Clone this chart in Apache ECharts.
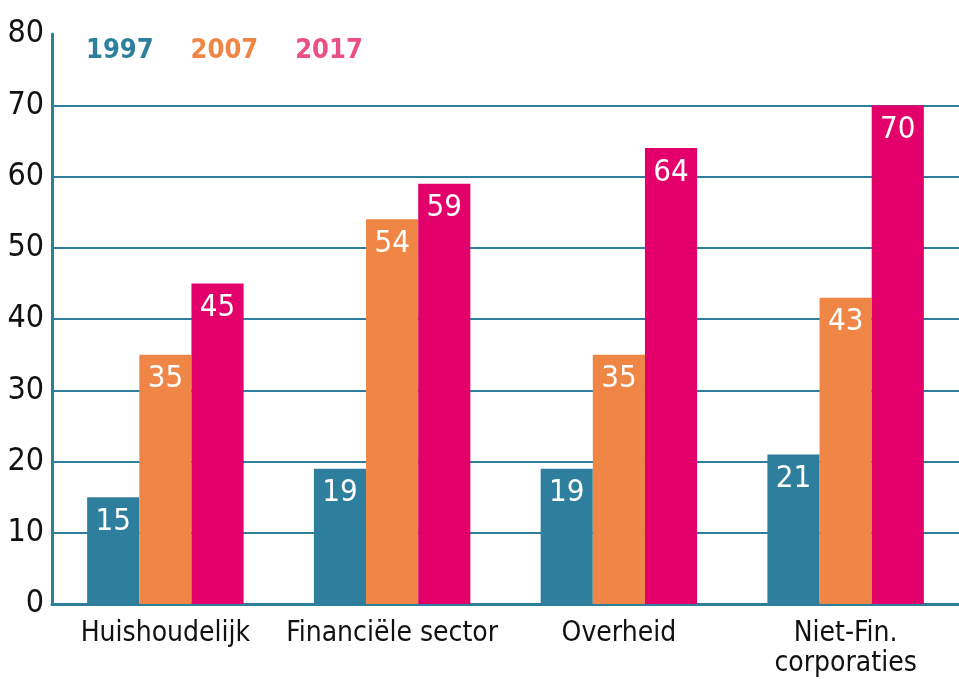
<!DOCTYPE html>
<html>
<head>
<meta charset="utf-8">
<script src="https://cdn.jsdelivr.net/npm/echarts@6/dist/echarts.min.js"></script>
<style>
  html, body { margin: 0; padding: 0; background: #fff; }
  #chart { width: 959px; height: 679px; }
</style>
</head>
<body>
<div id="chart"></div>
<script>
const categories = ['Huishoudelijk', 'Financiële sector', 'Overheid', 'Niet-Fin.\ncorporaties']
const years = ['1997', '2007', '2017']
const values1997 = [15, 19, 19, 21]
const values2007 = [35, 54, 35, 43]
const values2017 = [45, 59, 64, 70]

const barColors = ['#2e7f9e', '#f08646', '#e4006a']
const legendColors = ['#2e7f9e', '#f08646', '#ea4f86']
const font = '"DejaVu Sans Condensed", "DejaVu Sans", sans-serif'

const chart = echarts.init(document.getElementById('chart'))

function makeSeries(name, data, i) {
  return {
    name,
    type: 'bar',
    data,
    barGap: 0,
    barCategoryGap: '31%',
    itemStyle: { color: barColors[i] },
    label: {
      show: true,
      position: 'insideTop',
      distance: 9,
      color: '#fff',
      fontSize: 31,
      fontFamily: font
    }
  }
}

chart.setOption({
  animation: false,
  legend: {
    left: 76,
    top: 32,
    itemWidth: 0,
    itemHeight: 0,
    itemGap: 32,
    icon: 'none',
    selectedMode: false,
    textStyle: { fontSize: 27, fontWeight: 'bold', fontFamily: font, padding: 0 },
    data: years.map((y, i) => ({ name: y, textStyle: { color: legendColors[i] } }))
  },
  grid: { left: 52, right: 0, top: 34, bottom: 73 },
  xAxis: {
    type: 'category',
    data: categories,
    axisTick: { show: false },
    axisLine: { lineStyle: { color: '#2e7f9e', width: 3 } },
    axisLabel: {
      color: '#111',
      fontSize: 28,
      fontFamily: font,
      margin: 15,
      lineHeight: 30,
      interval: 0
    }
  },
  yAxis: {
    type: 'value',
    min: 0,
    max: 80,
    interval: 10,
    axisLine: { show: true, lineStyle: { color: '#2e7f9e', width: 3 } },
    axisTick: { show: false },
    axisLabel: { color: '#111', fontSize: 32, fontFamily: font, margin: 8 },
    splitLine: {
      lineStyle: { color: '#2e7f9e', width: 2 },
      showMaxLine: false
    }
  },
  series: [
    makeSeries(years[0], values1997, 0),
    makeSeries(years[1], values2007, 1),
    makeSeries(years[2], values2017, 2)
  ]
})
</script>
</body>
</html>
